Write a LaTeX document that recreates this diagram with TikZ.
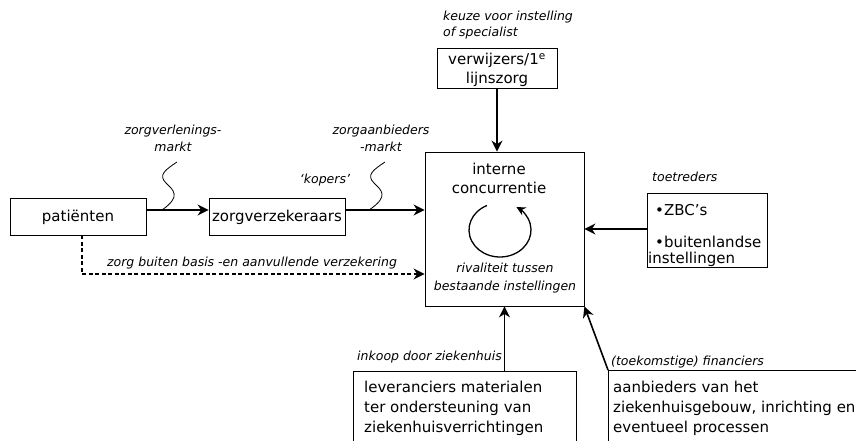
\documentclass[tikz,border=0pt]{standalone}
\usepackage{fontspec}
\setmainfont{DejaVu Sans}
\usetikzlibrary{arrows.meta}

\begin{document}
\begin{tikzpicture}[x=1pt,y=-1pt,
  box/.style={draw, line width=0.8pt, inner sep=0pt},
  flow/.style={line width=1.6pt, -{Stealth[length=11pt,width=11pt,inset=3.5pt]}},
  turn/.style={line width=1.3pt, -{Stealth[length=9pt,width=9pt,inset=3pt]}},
  wave/.style={line width=0.8pt},
  lbl/.style={font=\fontsize{12.5}{16.5}\selectfont\itshape, inner sep=0pt},
  txt/.style={font=\fontsize{15}{19}\selectfont, inner sep=0pt}]
\useasboundingbox (0,0) rectangle (856,441);

% boxes
\node[box, minimum width=136pt, minimum height=37pt] (pat) at (78,216.5) {};
\node[txt] (patT) at (78,217) {patiënten};
\node[box, minimum width=136pt, minimum height=37pt] (zv) at (277,216.5) {};
\node[txt] (zvT) at (277,217) {zorgverzekeraars};
\node[box, minimum width=159pt, minimum height=154pt] (ic) at (504.5,229) {};
\node[box, minimum width=120pt, minimum height=40pt] (verw) at (497,68) {};
\node[box, minimum width=120pt, minimum height=74pt] (toe) at (707,230) {};
\node[box, minimum width=223pt, minimum height=100pt, anchor=north west] (lev) at (353,371) {};
\node[box, minimum width=270pt, minimum height=100pt, anchor=north west] (aan) at (608,370) {};

% texts inside boxes
\node[txt, align=center] (verwT) at (497,70) {verwijzers/1\textsuperscript{e}\\lijnszorg};
\node[txt, align=center] (icT) at (499,178) {interne\\concurrentie};
\node[lbl, align=center, font=\fontsize{12.5}{18}\selectfont\itshape] (icR) at (505,278) {rivaliteit tussen\\bestaande instellingen};
\node[txt, anchor=west] (z1) at (655,210) {•ZBC’s};
\node[txt, anchor=west] (z2) at (655,242) {•buitenlandse};
\node[txt, anchor=west] (z3) at (648,259) {instellingen};
\node[txt, align=left, anchor=north west, font=\fontsize{15}{20}\selectfont] (levT) at (364,381) {leveranciers materialen\\ter ondersteuning van\\ziekenhuisverrichtingen};
\node[txt, align=left, anchor=north west, font=\fontsize{15}{20}\selectfont] (aanT) at (613,381) {aanbieders van het\\ziekenhuisgebouw, inrichting en\\eventueel processen};

% labels
\node[lbl, align=left, anchor=west] (keuze) at (443,25) {keuze voor instelling\\of specialist};
\node[lbl, align=center] (zvm) at (173,138.5) {zorgverlenings-\\markt};
\node[lbl, align=center] (zam) at (381,138.5) {zorgaanbieders\\-markt};
\node[lbl] (kop) at (325,180) {‘kopers’};
\node[lbl] (buiten) at (252,263) {zorg buiten basis -en aanvullende verzekering};
\node[lbl, anchor=east] (inkoop) at (502,357) {inkoop door ziekenhuis};
\node[lbl, anchor=west] (fin) at (611,362) {(toekomstige) financiers};
\node[lbl, anchor=west] (toet) at (652,177) {toetreders};

% connectors
\draw[flow] ([yshift=6.5pt]pat.east) -- ([yshift=6.5pt]zv.west);
\draw[flow] ([yshift=6.5pt]zv.east) -- ([yshift=6.5pt]zv.east -| ic.west);
\draw[flow] (verw.south) -- (verw.south |- ic.north);
\draw[flow] (toe.west |- ic.east) -- (ic.east);
\draw[flow] (ic.south |- lev.north) -- (ic.south);
\draw[flow] (aan.north west) -- (ic.south east);
\coordinate (dashStart) at ([xshift=4pt]pat.south);
\coordinate (dashEnd) at (ic.west |- 0,274);
\draw[flow, dash pattern=on 4pt off 2.5pt] (dashStart) |- (dashEnd);

% wavy market markers
\draw[wave] (177,162) .. controls (165,170) and (158,175) .. (166,183)
  .. controls (173,190) and (182,196) .. (162,210);
\draw[wave] (385,162) .. controls (373,170) and (366,175) .. (374,183)
  .. controls (381,190) and (390,196) .. (369,210);

% rivalry loop (radii in pt, so angles are the usual counter-clockwise ones)
\draw[turn] (500,230) ++(115:31pt and 27pt) arc[start angle=115, end angle=418, x radius=31pt, y radius=27pt];
\end{tikzpicture}
\end{document}
